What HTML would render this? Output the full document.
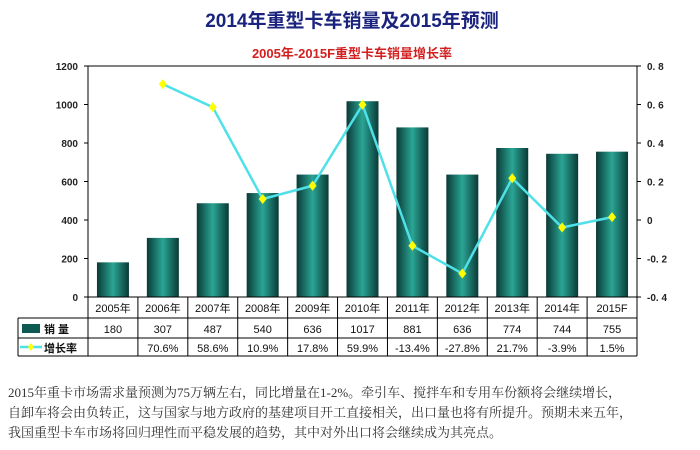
<!DOCTYPE html>
<html><head><meta charset="utf-8"><style>
body{margin:0;background:#fff;width:700px;height:450px;overflow:hidden;font-family:"Liberation Sans","Noto Sans CJK SC",sans-serif}
svg text{font-family:"Liberation Sans","Noto Sans CJK SC",sans-serif}
.p{position:absolute;left:8px;top:383px;width:700px;font-size:13px;line-height:20px;color:#333;white-space:nowrap;font-family:"Liberation Serif","Noto Serif CJK SC",serif}
</style></head><body>
<svg id="c" width="700" height="450" style="position:absolute;left:0;top:0">
<defs><linearGradient id="g" x1="0" x2="1"><stop offset="0" stop-color="#0a3a36"/><stop offset="0.5" stop-color="#2aa595"/><stop offset="1" stop-color="#0a3a36"/></linearGradient></defs>
<text x="352" y="27" text-anchor="middle" font-size="19" font-weight="bold" fill="#1a237e">2014年重型卡车销量及2015年预测</text>
<text x="352" y="58" text-anchor="middle" font-size="13" font-weight="bold" fill="#d32020">2005年-2015F重型卡车销量增长率</text>
<g id="plot"></g>
</svg>
<div class="p">2015年重卡市场需求量预测为75万辆左右，同比增量在1-2%。牵引车、搅拌车和专用车份额将会继续增长，<br>自卸车将会由负转正，这与国家与地方政府的基建项目开工直接相关，出口量也将有所提升。预期未来五年，<br>我国重型卡车市场将回归理性而平稳发展的趋势，其中对外出口将会继续成为其亮点。</div>
<script>
const categories=["2005年","2006年","2007年","2008年","2009年","2010年","2011年","2012年","2013年","2014年","2015F"];
const sales=[180,307,487,540,636,1017,881,636,774,744,755];
const growth=[null,0.706,0.586,0.109,0.178,0.599,-0.134,-0.278,0.217,-0.039,0.015];
const growthLabels=["","70.6%","58.6%","10.9%","17.8%","59.9%","-13.4%","-27.8%","21.7%","-3.9%","1.5%"];
const leftTicks=[0,200,400,600,800,1000,1200];
const rightTicks=[-0.4,-0.2,0,0.2,0.4,0.6,0.8];
const L=88,R=637,T=66,B=297;
const bw=(R-L)/categories.length;
const x=i=>L+bw*(i+0.5);
const yL=v=>B-(v/1200)*(B-T);
const yR=v=>B-((v+0.4)/1.2)*(B-T);
const NS="http://www.w3.org/2000/svg";
const g=document.getElementById('plot');
function mk(t,a,p){const e=document.createElementNS(NS,t);for(const k in a)e.setAttribute(k,a[k]);(p||g).appendChild(e);return e;}
let fr=mk('rect',{x:L,y:T,width:R-L,height:B-T,fill:'none',stroke:'#000','stroke-width':1});


leftTicks.forEach(v=>{const t=mk('text',{x:L-10,y:yL(v)+4,'text-anchor':'end','font-size':10,'font-weight':'bold',fill:'#222'});t.textContent=v;


mk('line',{x1:L-4,x2:L,y1:yL(v),y2:yL(v),stroke:'#000'});});
rightTicks.forEach(v=>{const t=mk('text',{x:R+10,y:yR(v)+4,'font-size':10,'font-weight':'bold',fill:'#222'});t.textContent=(v<0?'-':'')+Math.abs(v).toFixed(1).replace('.','. ').replace(/^0\. 0$/,'0');


mk('line',{x1:R,x2:R+4,y1:yR(v),y2:yR(v),stroke:'#000'});});
sales.forEach((v,i)=>{const r=mk('rect',{x:x(i)-16,y:yL(v),width:32,height:B-yL(v),fill:'url(#g)'});

});
let pts=[];growth.forEach((v,i)=>{if(v!==null)pts.push(x(i)+','+yR(v));});
const pl=mk('polyline',{points:pts.join(' '),fill:'none',stroke:'#4fe0e8','stroke-width':2.5});


growth.forEach((v,i)=>{if(v===null)return;const cx=x(i),cy=yR(v);const d=mk('polygon',{points:`${cx},${cy-5} ${cx+4},${cy} ${cx},${cy+5} ${cx-4},${cy}`,fill:'#ffff00'});

});
const r1=297,r2=318,r3=338,r4=356,TL=18;
mk('line',{x1:L,x2:R,y1:r1,y2:r1,stroke:'#000'});
[r2,r3,r4].forEach(y=>mk('line',{x1:TL,x2:R,y1:y,y2:y,stroke:'#000'}));
mk('line',{x1:TL,x2:TL,y1:r2,y2:r4,stroke:'#000'});
for(let i=0;i<=categories.length;i++)mk('line',{x1:L+bw*i,x2:L+bw*i,y1:r1,y2:r4,stroke:'#000'});
categories.forEach((c,i)=>{
const a=mk('text',{x:x(i),y:r1+15,'text-anchor':'middle','font-size':11,fill:'#111'});a.textContent=c;


const b=mk('text',{x:x(i),y:r2+15,'text-anchor':'middle','font-size':11,fill:'#111'});b.textContent=sales[i];


const c2=mk('text',{x:x(i),y:r3+14,'text-anchor':'middle','font-size':11,fill:'#111'});c2.textContent=growthLabels[i];

});
mk('rect',{x:22,y:r2+6,width:18,height:9,fill:'#0e5a52'});
let s=mk('text',{x:44,y:r2+15,'font-size':11,'font-weight':'bold',fill:'#111'});s.textContent='销 量';


mk('line',{x1:20,x2:42,y1:r3+9,y2:r3+9,stroke:'#4fe0e8','stroke-width':2.5});
mk('polygon',{points:`31,${r3+5} 34,${r3+9} 31,${r3+13} 28,${r3+9}`,fill:'#ffff00'});
s=mk('text',{x:44,y:r3+14,'font-size':11,'font-weight':'bold',fill:'#111'});s.textContent='增长率';


</script>
</body></html>
